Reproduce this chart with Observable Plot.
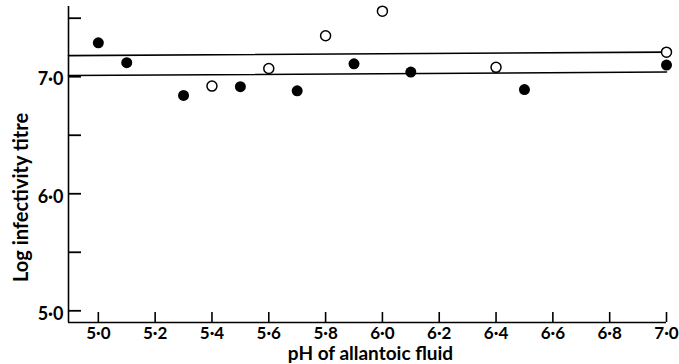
<!DOCTYPE html>
<html>
<head>
<meta charset="utf-8">
<script src="https://cdn.jsdelivr.net/npm/d3@7"></script>
<script src="https://cdn.jsdelivr.net/npm/@observablehq/plot@0.6"></script>
<style>
  html, body { margin: 0; padding: 0; background: #fff; }
  #chart svg { display: block; }
</style>
</head>
<body>
<div id="chart"></div>
<script>
// pH values and log infectivity titres (filled and open circles)
const filledX = [5.0, 5.1, 5.3, 5.5, 5.7, 5.9, 6.1, 6.5, 7.0];
const filledY = [7.29, 7.12, 6.84, 6.915, 6.88, 7.11, 7.04, 6.89, 7.10];
const openX = [5.4, 5.6, 5.8, 6.0, 6.4, 7.0];
const openY = [6.92, 7.07, 7.35, 7.56, 7.08, 7.21];
// two horizontal reference lines (end values as drawn)
const refX = [4.895, 7.0];
const upperY = [7.18, 7.21];
const lowerY = [7.01, 7.04];
// ticks
const xTicks = [5.0, 5.2, 5.4, 5.6, 5.8, 6.0, 6.2, 6.4, 6.6, 6.8, 7.0];
const xTickLabels = ["5·0", "5·2", "5·4", "5·6", "5·8", "6·0", "6·2", "6·4", "6·6", "6·8", "7·0"];
const yTicks = [5.0, 5.5, 6.0, 6.5, 7.0, 7.5];
const yTickLabels = ["5·0", "", "6·0", "", "7·0", ""];
const xTitle = "pH of allantoic fluid";
const yTitle = "Log infectivity titre";

const filled = filledX.map((x, i) => ({x, y: filledY[i]}));
const open = openX.map((x, i) => ({x, y: openY[i]}));
const upper = refX.map((x, i) => ({x, y: upperY[i]}));
const lower = refX.map((x, i) => ({x, y: lowerY[i]}));

const W = 679, H = 364, mL = 68, mR = 13, mT = 6, mB = 42;
const font = "Lato, 'DejaVu Sans', sans-serif";
const xTickLen = 10, yTickLen = 13;

const chart = Plot.plot({
  width: W,
  height: H,
  marginLeft: mL,
  marginRight: mR,
  marginTop: mT,
  marginBottom: mB,
  style: {fontFamily: font, background: "#fff", color: "#000"},
  x: {domain: [4.895, 7.0]},
  y: {domain: [4.9, 7.6]},
  marks: [
    // inward ticks: axis ticks shifted into the frame
    Plot.axisX({ticks: xTicks, tickSize: xTickLen, dy: -xTickLen, tickFormat: () => "", label: null, stroke: "#000", strokeWidth: 1.6}),
    Plot.axisY({ticks: yTicks, tickSize: yTickLen, dx: yTickLen, tickFormat: () => "", label: null, stroke: "#000", strokeWidth: 1.8}),
    Plot.ruleX([4.895], {stroke: "#000", strokeWidth: 1.6}),
    Plot.ruleY([4.9], {stroke: "#000", strokeWidth: 1.6}),
    // tick labels
    Plot.axisX({
      ticks: xTicks,
      tickSize: 0,
      tickPadding: 4,
      tickFormat: d => xTickLabels[xTicks.findIndex(t => Math.abs(t - d) < 1e-9)],
      label: null,
      fontSize: 17,
      fontWeight: "bold"
    }),
    Plot.axisY({
      ticks: yTicks,
      tickSize: 0,
      tickPadding: 5,
      tickFormat: d => yTickLabels[yTicks.findIndex(t => Math.abs(t - d) < 1e-9)],
      label: null,
      fontSize: 18,
      fontWeight: "bold",
      dy: 3
    }),
    Plot.line(upper, {x: "x", y: "y", stroke: "#000", strokeWidth: 1.6}),
    Plot.line(lower, {x: "x", y: "y", stroke: "#000", strokeWidth: 1.6}),
    Plot.dot(filled, {x: "x", y: "y", r: 5.5, fill: "#000", stroke: "none"}),
    Plot.dot(open, {x: "x", y: "y", r: 5, fill: "#fff", stroke: "#000", strokeWidth: 1.5}),
    Plot.text([xTitle], {frameAnchor: "bottom", textAnchor: "middle", lineAnchor: "middle", dx: 3, dy: 31, fontSize: 19, fontWeight: "bold", fill: "#000"}),
    Plot.text([yTitle], {frameAnchor: "left", textAnchor: "middle", lineAnchor: "middle", rotate: -90, dx: -47, dy: 33, fontSize: 20, fontWeight: "bold", fill: "#000"})
  ]
});
document.getElementById("chart").appendChild(chart);
</script>
</body>
</html>
